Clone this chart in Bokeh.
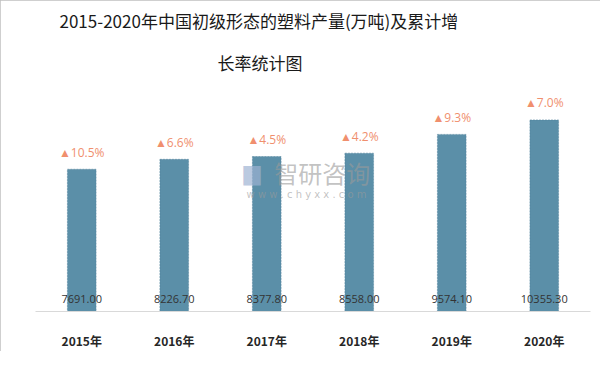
from bokeh.plotting import figure
from bokeh.models import ColumnDataSource, FactorRange, Range1d, LabelSet, Label, Title
from bokeh.embed import file_html
from bokeh.resources import INLINE
from bokeh.core.properties import value

years = ["2015年", "2016年", "2017年", "2018年", "2019年", "2020年"]
output = [7691.00, 8226.70, 8377.80, 8558.00, 9574.10, 10355.30]
growth = [10.5, 6.6, 4.5, 4.2, 9.3, 7.0]
title_lines = ["2015-2020年中国初级形态的塑料产量(万吨)及累计增", "长率统计图"]

src = ColumnDataSource(dict(
    x=years,
    y=output,
    vlab=["%.2f" % v for v in output],
    glab=["▲%.1f%%" % g for g in growth],
    zero=[0] * len(years),
))

p = figure(width=600, height=351, x_range=FactorRange(*years, range_padding=0),
           y_range=Range1d(0, 12000), output_backend="svg", toolbar_location=None,
           min_border_left=35, min_border_right=10, min_border_bottom=33, min_border_top=89)

p.styles = {"outline": "1px solid #BFBFBF", "outline-offset": "-1px"}

def style_title(t, off):
    t.align = "left"
    t.offset = off
    t.text_font = "Noto Sans CJK SC"
    t.text_font_size = "17px"
    t.text_font_style = "normal"
    t.text_color = "#1a1a1a"

p.title.text = title_lines[0]
style_title(p.title, 24)
p.title.standoff = 0
t2 = Title(text=title_lines[1])
style_title(t2, 182)
t2.standoff = 30
p.add_layout(t2, "above")

p.outline_line_color = None
p.background_fill_color = "white"
p.border_fill_color = "white"

p.vbar(x="x", top="y", width=0.31, source=src, fill_color="#5B8FA8",
       line_color="#4F7F98", line_width=0.5, line_dash="2 1")

# watermark
p.add_layout(Label(x=2.34, y=7500, text="▆", text_font="DejaVu Sans",
                   text_font_size="22px", text_color="#9DB3D3", text_alpha=0.7,
                   text_align="center", text_baseline="middle"))
p.add_layout(Label(x=3.1, y=7500, text="智研咨询", text_font="Noto Sans CJK SC",
                   text_font_size="24px", text_color="#9a9a9a", text_alpha=0.6,
                   text_align="center", text_baseline="middle"))
p.add_layout(Label(x=2.93, y=6330, text="w w w . c h y x x . c o m", text_font="DejaVu Sans",
                   text_font_size="10px", text_color="#9a9a9a", text_alpha=0.6,
                   text_align="center", text_baseline="middle"))

p.add_layout(LabelSet(x="x", y="zero", text="vlab", source=src, y_offset=13,
                      text_align="center", text_baseline="middle",
                      text_font=value("Open Sans"), text_font_size="11px", text_color="#333333"))
p.add_layout(LabelSet(x="x", y="y", text="glab", source=src, y_offset=17,
                      text_align="center", text_baseline="middle",
                      text_font=value("Open Sans"), text_font_size="12px", text_color="#F08F6E"))

p.yaxis.visible = False
p.xgrid.grid_line_color = None
p.ygrid.grid_line_color = None
p.xaxis.axis_line_color = "#D9D9D9"
p.xaxis.major_tick_line_color = None
p.xaxis.minor_tick_line_color = None
p.xaxis.major_label_standoff = 14
p.xaxis.major_label_text_font = "Noto Sans CJK SC"
p.xaxis.major_label_text_font_style = "bold"
p.xaxis.major_label_text_font_size = "12px"
p.xaxis.major_label_text_color = "#262626"

open("out.html", "w").write(file_html(p, INLINE))
